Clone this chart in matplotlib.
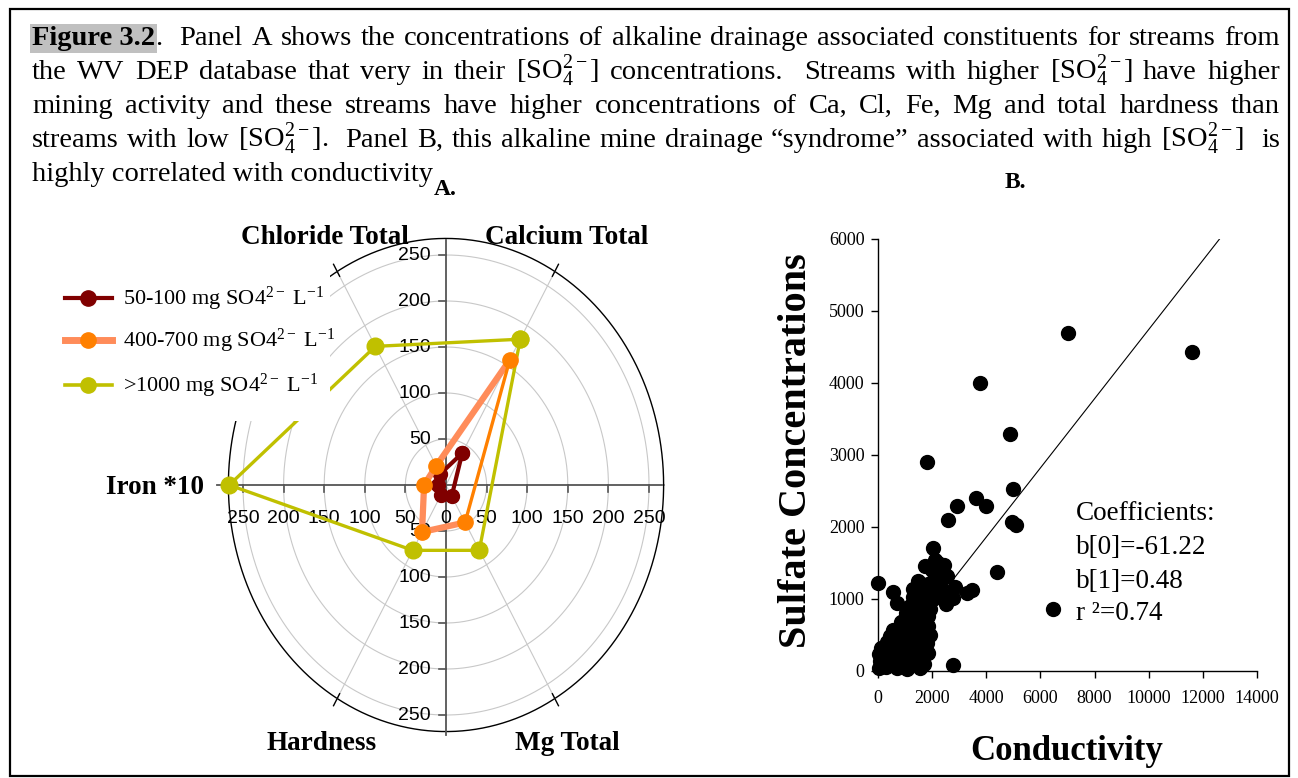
import re

import numpy as np
import matplotlib
matplotlib.use("Agg")
import matplotlib.pyplot as plt
from matplotlib.patches import Rectangle

plt.rcParams["font.family"] = ["Liberation Serif", "DejaVu Serif"]
plt.rcParams["mathtext.fontset"] = "custom"
plt.rcParams["mathtext.rm"] = "Liberation Serif"
plt.rcParams["mathtext.it"] = "Liberation Serif:italic"
plt.rcParams["mathtext.bf"] = "Liberation Serif:bold"

W, H = 1298, 778

# ---- panel A: polar profile of alkaline drainage constituents ----
CATEGORIES = ["Calcium Total", "Chloride Total", "Iron *10", "Hardness", "Mg Total"]
ANGLES = [60, 120, 180, 240, 300]
SO4_LOW = [40, 14, 10, 13, 14]
SO4_MID = [157, 24, 27, 59, 47]
SO4_HIGH = [183, 174, 267, 82, 82]
SERIES_LABELS = [
    "50-100 mg SO4$^{2-}$ L$^{-1}$",
    "400-700 mg SO4$^{2-}$ L$^{-1}$",
    ">1000 mg SO4$^{2-}$ L$^{-1}$",
]
RINGS = [50, 100, 150, 200, 250]
R_OUTER = 268

# ---- panel B: sulfate vs conductivity ----
COND = [
    20, 60, 30, 90, 170, 250, 200, 320, 380, 440, 430, 560, 600, 620, 700,
    760, 800, 830, 900, 950, 980, 1010, 1060, 1100, 1150, 1160, 1190, 1250,
    1300, 1320, 1350, 1390, 1420, 1480, 1500, 1530, 1470, 1560, 1620, 1650,
    1700, 1700, 1780, 1790, 1840, 1900, 2010, 2060, 2100, 2200, 2430, 2010,
    1730, 1950, 2300, 2500, 2640, 2850, 2780, 3270, 3460, 0, 540, 680, 560,
    2780, 1300, 1640, 1850, 2540, 2100, 1850,
    120, 300, 480, 650, 700, 880, 870, 1080, 1080, 1230, 1250, 1270, 1420,
    1440, 1580, 1600, 1350, 1100, 950, 1900, 1850, 1750, 1600, 1300, 2000,
    2250, 2350, 2150,
    1810, 2590, 2920, 3630, 3980, 3760, 4870, 4990, 4930, 5110, 4380, 6470,
    7000, 11610,
]
SULF = [
    40, 130, 230, 320, 60, 170, 280, 400, 90, 250, 480, 130, 340, 570, 40,
    220, 450, 680, 110, 310, 570, 800, 30, 200, 420, 660, 900, 90,
    300, 540, 760, 980, 150, 390, 630, 870, 1250, 40, 260, 500,
    760, 90, 980, 380, 620, 860, 1000, 1260, 1540, 1500, 1470, 1700,
    1460, 1120, 1210, 920, 1040, 1160, 1010, 1080, 1120, 1220, 1090, 940, 560,
    80, 1030, 1100, 1200, 1315, 1300, 240,
    180, 50, 380, 200, 480, 370, 560, 320, 560, 220, 650, 420, 520,
    780, 560, 880, 880, 740, 700, 500, 760, 1050, 1000, 1140, 1400,
    1350, 1100, 1150,
    2900, 2095, 2285, 2395, 2290, 3995, 3290, 2525, 2060, 2020, 1370, 860,
    4695, 4430,
]
B0, B1, R2 = -61.22, 0.48, 0.74

CAPTION = [
    "the WV DEP database that very in their [SO$_4^{2-}$] concentrations.  "
    "Streams with higher [SO$_4^{2-}$] have higher",
    "mining activity and these streams have higher concentrations of Ca, Cl, "
    "Fe, Mg and total hardness than",
    "streams with low [SO$_4^{2-}$].  Panel B, this alkaline mine drainage "
    "\u201csyndrome\u201d associated with high [SO$_4^{2-}$]  is",
]
CAPTION_FIRST = ("Figure 3.2", ".  Panel A shows the concentrations of alkaline "
                 "drainage associated constituents for streams from")
CAPTION_LAST = "highly correlated with conductivity"

fig = plt.figure(figsize=(W / 100, H / 100), dpi=100)

# radar drawn in a cartesian axes: x 0.812 px/unit, y 0.92 px/unit, centre (446, 485)
sx, sy, cx, cy = 0.812, 0.92, 446, 485
lim = 290
ax = fig.add_axes([(cx - lim * sx) / W, (H - cy - lim * sy) / H,
                   2 * lim * sx / W, 2 * lim * sy / H])
ax.set_xlim(-lim, lim)
ax.set_ylim(-lim, lim)
ax.axis("off")

t = np.linspace(0, 2 * np.pi, 400)
for r in RINGS:
    ax.plot(r * np.cos(t), r * np.sin(t), color="#c8c8c8", lw=0.8, zorder=1)
ax.plot(R_OUTER * np.cos(t), R_OUTER * np.sin(t), color="black", lw=1.0, zorder=1)
for a in ANGLES:
    if a == 180:
        continue
    c, s = np.cos(np.deg2rad(a)), np.sin(np.deg2rad(a))
    ax.plot([0, R_OUTER * c], [0, R_OUTER * s], color="#c8c8c8", lw=0.8, zorder=1)
    ax.plot([262 * c, 277 * c], [262 * s, 277 * s], color="black", lw=1.0, zorder=1)

axc = "#555555"
ax.plot([-282, 266], [0, 0], color=axc, lw=1.3, zorder=2)
ax.plot([0, 0], [-272, 266], color=axc, lw=1.3, zorder=2)
for v in range(-250, 251, 50):
    ax.plot([v, v], [0, -7.6], color=axc, lw=1.2, zorder=2)
    ax.text(v, -36, str(abs(v)), ha="center", va="center", fontsize=14,
            family="Liberation Sans", zorder=2)
    if v != 0:
        ax.plot([0, -8.6], [v, v], color=axc, lw=1.2, zorder=2)
        ax.text(-18.5, v, str(abs(v)), ha="right", va="center", fontsize=14,
                family="Liberation Sans", zorder=2)


def polar_xy(vals):
    a = np.deg2rad(ANGLES)
    v = np.asarray(vals, dtype=float)
    return v * np.cos(a), v * np.sin(a)


hx, hy = polar_xy(SO4_HIGH)
ax.plot(np.append(hx, hx[0]), np.append(hy, hy[0]), color="#c0c000", lw=2.4,
        marker="o", ms=12, zorder=3)
lx, ly = polar_xy(SO4_LOW)
ax.plot(np.append(lx, lx[0]), np.append(ly, ly[0]), color="#800000", lw=3,
        marker="o", ms=10, zorder=4)
mx, my = polar_xy(SO4_MID)
ax.plot(mx, my, color="#ff8c5a", lw=4.5, zorder=5)
ax.plot([mx[-1], mx[0]], [my[-1], my[0]], color="#ff8000", lw=2.4, zorder=5)
ax.plot(mx, my, "o", color="#ff8000", ms=11, zorder=6)

# ---- scatter panel ----
ax2 = fig.add_axes([878.3 / W, (H - 670.7) / H, 378.4 / W, 431.8 / H])
ax2.plot(COND, SULF, "o", color="black", ms=10, clip_on=False, zorder=3)
xr = np.array([(0 - B0) / B1, (6000 - B0) / B1])
ax2.plot(xr, B0 + B1 * xr, color="black", lw=0.8, zorder=2)
ax2.set_xlim(0, 14000)
ax2.set_ylim(0, 6000)
ax2.set_xticks(range(0, 14001, 2000))
ax2.set_yticks(range(0, 6001, 1000))
for side in ("top", "right"):
    ax2.spines[side].set_visible(False)
for side in ("left", "bottom"):
    ax2.spines[side].set_linewidth(1.0)
ax2.tick_params(direction="out", length=5, width=1, labelsize=13)
ax2.tick_params(axis="x", pad=9)
ax2.tick_params(axis="y", pad=5)
ax2.set_facecolor("none")

# ---- overlay in pixel coordinates for caption, legend and labels ----
ov = fig.add_axes([0, 0, 1, 1])
ov.set_xlim(0, W)
ov.set_ylim(H, 0)
ov.axis("off")

ov.add_patch(Rectangle((10, 9), 1279, 767, fill=False, ec="black", lw=1.6))

# legend
ov.add_patch(Rectangle((30, 270), 300, 151, fc="white", ec="none", zorder=5))
styles = [("#800000", "#800000", 3), ("#ff8c5a", "#ff8000", 5), ("#c0c000", "#c0c000", 2.6)]
for (lc, mc, lw), label, yy in zip(styles, SERIES_LABELS, [298, 340, 385]):
    ov.plot([65, 112], [yy, yy], color=lc, lw=lw, zorder=6)
    ov.plot([88], [yy], "o", color=mc, ms=11, zorder=7)
    ov.text(123, yy + 1, label, fontsize=16, va="center", ha="left", zorder=7)

bold_lbl = dict(fontsize=19.5, fontweight="bold", ha="center", va="center", zorder=8)
label_pos = {
    "Calcium Total": (567, 237),
    "Chloride Total": (325, 237),
    "Iron *10": (155, 487),
    "Hardness": (322, 744),
    "Mg Total": (567, 744),
}
for name in CATEGORIES:
    ov.text(*label_pos[name], name, **bold_lbl)

ov.text(445, 189, "A.", fontsize=17, fontweight="bold", ha="center", va="center")
ov.text(1015, 182, "B.", fontsize=17, fontweight="bold", ha="center", va="center")

ov.text(797, 451, "Sulfate Concentrations", rotation=90, fontsize=29,
        fontweight="bold", ha="center", va="center")
ov.text(1067, 752, "Conductivity", fontsize=25, fontweight="bold",
        ha="center", va="center")
for txt, yy in zip(["Coefficients:", "b[0]=%.2f" % B0, "b[1]=%.2f" % B1,
                    "r \u00b2=%.2f" % R2], [513, 548, 582, 614]):
    ov.text(1076, yy, txt, fontsize=19.5, ha="left", va="center")

# caption, justified between x0 and x1
CAP_FS = 20.5
X0, X1 = 32, 1280
fig.canvas.draw()
renderer = fig.canvas.get_renderer()


def justify(y, parts):
    arts = []
    for s, gap, kw in parts:
        arts.append((ov.text(0, y, s, fontsize=CAP_FS, ha="left", va="baseline", **kw), gap))
    widths = [a.get_window_extent(renderer).width for a, _ in arts]
    gaps = sum(g for _, g in arts)
    space = (X1 - X0 - sum(widths)) / max(gaps, 1)
    x = X0
    for (a, g), w in zip(arts, widths):
        x += g * space
        a.set_x(x)
        x += w


def split_words(line):
    return [(w, len(sp), {}) for sp, w in re.findall(r"( *)(\S+)", line)]


first = [(CAPTION_FIRST[0], 0, dict(fontweight="bold",
          bbox=dict(fc="#c0c0c0", ec="none", pad=1.5)))]
rest = split_words(CAPTION_FIRST[1])
rest[0] = (rest[0][0], 0, {})
justify(45, first + rest)
for line, yy in zip(CAPTION, [79, 113, 147]):
    justify(yy, split_words(line))
ov.text(X0, 181, CAPTION_LAST, fontsize=CAP_FS, ha="left", va="baseline")

fig.savefig("out.png", dpi=100)
